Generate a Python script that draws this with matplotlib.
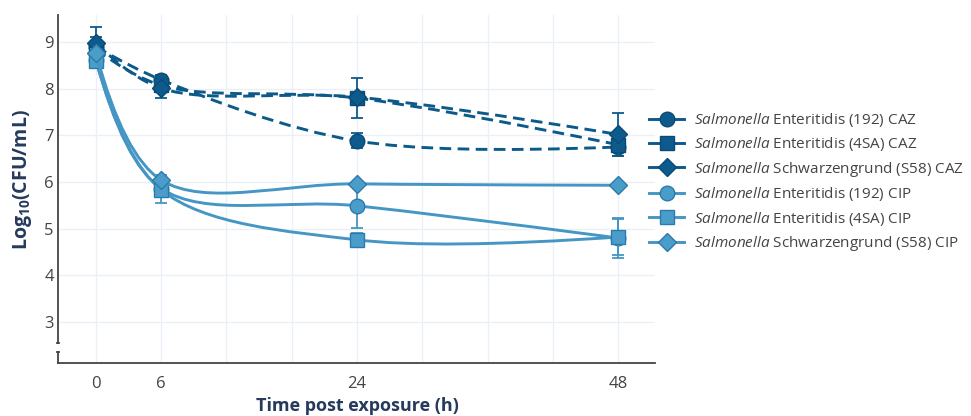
import matplotlib
matplotlib.use("Agg")
import matplotlib.pyplot as plt
import numpy as np
from matplotlib.path import Path
from matplotlib.patches import PathPatch
from matplotlib.lines import Line2D

plt.rcParams['font.family'] = ['Open Sans', 'DejaVu Sans']
plt.rcParams['mathtext.fontset'] = 'custom'
plt.rcParams['mathtext.rm'] = 'Open Sans'
plt.rcParams['mathtext.it'] = 'Open Sans:italic'
plt.rcParams['mathtext.bf'] = 'Open Sans:bold'

# ---- data ----
hours = [0, 6, 24, 48]
tick_hours = [0, 6, 12, 18, 24, 30, 36, 42, 48]
tick_labels = ['0', '6', '', '', '24', '', '', '', '48']
y_ticks = [3, 4, 5, 6, 7, 8, 9]

labels = [
    r'$\mathit{Salmonella}$ Enteritidis (192) CAZ',
    r'$\mathit{Salmonella}$ Enteritidis (4SA) CAZ',
    r'$\mathit{Salmonella}$ Schwarzengrund (S58) CAZ',
    r'$\mathit{Salmonella}$ Enteritidis (192) CIP',
    r'$\mathit{Salmonella}$ Enteritidis (4SA) CIP',
    r'$\mathit{Salmonella}$ Schwarzengrund (S58) CIP',
]
caz192 = [8.90, 8.19, 6.88, 6.75]
caz4sa = [8.85, 8.07, 7.80, 6.80]
cazs58 = [8.98, 8.01, 7.82, 7.02]
cip192 = [8.62, 5.86, 5.49, 4.80]
cip4sa = [8.60, 5.83, 4.76, 4.82]
cips58 = [8.76, 6.04, 5.96, 5.93]

caz192_err = [0.20, 0.10, 0.16, 0.20]
caz4sa_err = [0.15, 0.15, 0.42, 0.15]
cazs58_err = [0.35, 0.20, 0.10, 0.46]
cip192_err = [0.10, 0.15, 0.48, 0.42]
cip4sa_err = [0.15, 0.28, 0.14, 0.38]
cips58_err = [0.10, 0.10, 0.05, 0.05]

series = [caz192, caz4sa, cazs58, cip192, cip4sa, cips58]
errors = [caz192_err, caz4sa_err, cazs58_err, cip192_err, cip4sa_err, cips58_err]
markers = ['o', 's', 'D', 'o', 's', 'D']

DARK_LINE = '#0c5a8a'
DARK_FILL = '#0d5b8c'
DARK_EDGE = '#0a4a74'
LIGHT_LINE = '#4596c4'
LIGHT_FILL = '#4b9dc9'
LIGHT_EDGE = '#2b7aab'

fig = plt.figure(figsize=(9.71, 4.16), dpi=100)
ax = fig.add_axes([58/971, 1-363/416, (655-58)/971, (363-15)/416])
xmin, xmax = -3.49, 51.4
ymin, ymax = 2.12, 9.58
ax.set_xlim(xmin, xmax)
ax.set_ylim(ymin, ymax)

ax.set_xticks(tick_hours)
ax.set_xticklabels(tick_labels)
ax.set_yticks(y_ticks)
ax.grid(True, color='#ebf0f8', linewidth=1.0, zorder=0)
ax.set_axisbelow(True)
ax.tick_params(length=0, labelsize=12, labelcolor='#444444')
ax.tick_params(axis='y', pad=3)
ax.tick_params(axis='x', pad=9)
for s in ['top', 'right', 'left']:
    ax.spines[s].set_visible(False)
ax.spines['bottom'].set_color('#444444')
ax.spines['bottom'].set_linewidth(1.3)

# broken y axis line
ax.plot([xmin, xmin], [2.55, ymax], color='#444444', lw=1.3, clip_on=False, zorder=5)
ax.plot([xmin - 0.12, xmin + 0.12], [2.55, 2.55], color='#444444', lw=1.3, clip_on=False, zorder=5)
ax.plot([xmin, xmin], [ymin, 2.36], color='#444444', lw=1.3, clip_on=False, zorder=5)
ax.plot([xmin - 0.12, xmin + 0.12], [2.36, 2.36], color='#444444', lw=1.3, clip_on=False, zorder=5)

ax.set_ylabel(r'Log$_{\mathbf{10}}$(CFU/mL)', fontsize=14, fontweight='bold', color='#253a5c')
ax.set_xlabel('Time post exposure (h)', fontsize=13, fontweight='bold', color='#253a5c')
ax.yaxis.set_label_coords((22-58)/597, (363-180)/348)
ax.xaxis.set_label_coords((357-58)/597, -(406-363)/348)
ax.xaxis.label.set_va('center')
ax.yaxis.label.set_va('center')

CR = 0.5

def tangent(p0, p1, p2, sm=1.0):
    d1x, d1y = p0[0]-p1[0], p0[1]-p1[1]
    d2x, d2y = p2[0]-p1[0], p2[1]-p1[1]
    d1a = (d1x*d1x + d1y*d1y) ** (CR/2)
    d2a = (d2x*d2x + d2y*d2y) ** (CR/2)
    numx = (d2a*d2a*d1x - d1a*d1a*d2x) * sm
    numy = (d2a*d2a*d1y - d1a*d1a*d2y) * sm
    den1 = 3*d2a*(d1a+d2a)
    den2 = 3*d1a*(d1a+d2a)
    return ((p1[0] + numx/den1, p1[1] + numy/den1),
            (p1[0] - numx/den2, p1[1] - numy/den2))

def spline_path(xs, ys):
    pts = ax.transData.transform(np.column_stack([xs, ys]))
    n = len(pts)
    tans = [tangent(pts[i-1], pts[i], pts[i+1]) for i in range(1, n-1)]
    verts = [pts[0]]
    codes = [Path.MOVETO]
    verts += [tans[0][0], pts[1]]
    codes += [Path.CURVE3, Path.CURVE3]
    for i in range(2, n-1):
        verts += [tans[i-2][1], tans[i-1][0], pts[i]]
        codes += [Path.CURVE4]*3
    verts += [tans[n-3][1], pts[n-1]]
    codes += [Path.CURVE3, Path.CURVE3]
    dverts = ax.transData.inverted().transform(np.array(verts))
    return Path(dverts, codes)

LW = 2.1
DASH = (0, (4.0, 2.2))
handles = []
for i, (vals, err, mk) in enumerate(zip(series, errors, markers)):
    dark = i < 3
    lc = DARK_LINE if dark else LIGHT_LINE
    fc = DARK_FILL if dark else LIGHT_FILL
    ec = DARK_EDGE if dark else LIGHT_EDGE
    z = 2 + i
    ax.errorbar(hours, vals, yerr=err, fmt='none', ecolor=lc, elinewidth=1.3,
                capsize=4, capthick=1.3, zorder=z)
    path = spline_path(hours, vals)
    patch = PathPatch(path, facecolor='none', edgecolor=lc, lw=LW, zorder=z,
                      linestyle=DASH if dark else '-', capstyle='butt')
    ax.add_patch(patch)
    ms = 10.5 if mk != 'D' else 9.5
    ax.plot(hours, vals, linestyle='none', marker=mk, markersize=ms,
            markerfacecolor=fc, markeredgecolor=ec, markeredgewidth=1.0, zorder=z + 0.5)
    handles.append(Line2D([], [], color=lc, lw=LW, linestyle='-',
                          marker=mk, markersize=ms, markerfacecolor=fc,
                          markeredgecolor=ec, markeredgewidth=1.0))

leg = fig.legend(handles, labels, loc='upper left', bbox_to_anchor=(649/971, 1-111/416),
                 frameon=False, fontsize=11.0, handlelength=2.3, handletextpad=0.65,
                 labelspacing=0.42, borderpad=0, borderaxespad=0)
for t in leg.get_texts():
    t.set_color('#444444')

fig.savefig('out.png', dpi=100)
